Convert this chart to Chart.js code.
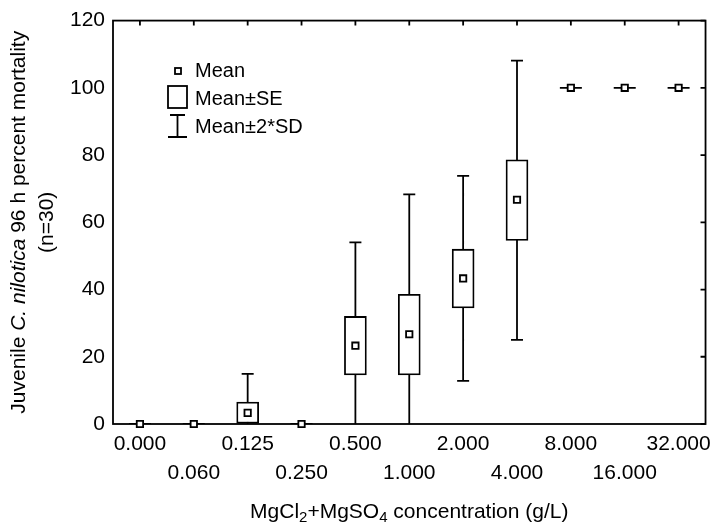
<!DOCTYPE html>
<html>
<head>
<meta charset="utf-8">
<script src="https://cdn.jsdelivr.net/npm/chart.js@4.4.1/dist/chart.umd.min.js"></script>
<style>
  html, body { margin: 0; padding: 0; background: #fff; }
  canvas { display: block; }
</style>
</head>
<body>
<canvas id="chart" width="717" height="529"></canvas>
<script>
// concentrations (g/L) and mortality stats
const concentrations = ['0.000', '0.060', '0.125', '0.250', '0.500', '1.000', '2.000', '4.000', '8.000', '16.000', '32.000'];
const mean   = [0, 0, 3.3, 0, 23.3, 26.7, 43.3, 66.7, 100, 100, 100];
const seLow  = [0, 0, 0.2, 0, 14.6, 14.6, 34.5, 54.6, 100, 100, 100];
const seHigh = [0, 0, 6.5, 0, 32.0, 38.6, 52.0, 78.6, 100, 100, 100];
const sdLow  = [0, 0, -8.2, 0, -7.4, -14.9, 12.8, 25.0, 100, 100, 100];
const sdHigh = [0, 0, 14.9, 0, 54.0, 68.3, 73.8, 108.1, 100, 100, 100];
const yTicks = [0, 20, 40, 60, 80, 100, 120];

const FONT = "'Liberation Sans', Arial, sans-serif";
const LW = 1.8;

// frame with inward ticks on top and right, and the whiskers behind the boxes
const frameAndWhiskers = {
  id: 'frameAndWhiskers',
  beforeDatasetsDraw(chart) {
    const { ctx, chartArea: a, scales: { x, y } } = chart;
    ctx.save();
    ctx.strokeStyle = '#000';
    ctx.lineWidth = LW;
    ctx.strokeRect(a.left, a.top, a.right - a.left, a.bottom - a.top);
    ctx.beginPath();
    concentrations.forEach((c, i) => {
      const px = x.getPixelForValue(i);
      ctx.moveTo(px, a.top);
      ctx.lineTo(px, a.top + 5);
    });
    yTicks.forEach(v => {
      const py = y.getPixelForValue(v);
      ctx.moveTo(a.right, py);
      ctx.lineTo(a.right - 5, py);
    });
    ctx.stroke();

    ctx.beginPath();
    ctx.rect(a.left, a.top, a.right - a.left, a.bottom - a.top);
    ctx.clip();
    ctx.beginPath();
    concentrations.forEach((c, i) => {
      const px = x.getPixelForValue(i);
      const lo = y.getPixelForValue(sdLow[i]);
      const hi = y.getPixelForValue(sdHigh[i]);
      ctx.moveTo(px, lo); ctx.lineTo(px, hi);
      ctx.moveTo(px - 6, lo); ctx.lineTo(px + 6, lo);
      ctx.moveTo(px - 6, hi); ctx.lineTo(px + 6, hi);
      if (seLow[i] === seHigh[i]) {
        // box collapses to a line
        const py = y.getPixelForValue(seLow[i]);
        ctx.moveTo(px - 11, py); ctx.lineTo(px + 11, py);
      }
    });
    ctx.stroke();
    ctx.restore();
  },
  afterDraw(chart) {
    const { ctx, chartArea: a } = chart;
    ctx.save();
    ctx.fillStyle = '#000';
    ctx.strokeStyle = '#000';
    ctx.lineWidth = LW;
    ctx.textBaseline = 'middle';

    // legend
    ctx.font = '20px ' + FONT;
    ctx.fillStyle = '#fff';
    ctx.fillRect(175, 68, 6, 6);
    ctx.strokeRect(175, 68, 6, 6);
    ctx.strokeRect(168, 86, 19, 22);
    ctx.beginPath();
    ctx.moveTo(170, 115); ctx.lineTo(185, 115);
    ctx.moveTo(177.5, 115); ctx.lineTo(177.5, 137);
    ctx.moveTo(168, 137); ctx.lineTo(187, 137);
    ctx.stroke();
    ctx.fillStyle = '#000';
    ctx.fillText('Mean', 195, 71);
    ctx.fillText('Mean\u00b1SE', 195, 99);
    ctx.fillText('Mean\u00b12*SD', 195, 127);

    // y title with italic species name
    const parts = [
      ['Juvenile ', '21px ' + FONT],
      ['C. nilotica', 'italic 21px ' + FONT],
      [' 96 h percent mortality', '21px ' + FONT]
    ];
    let total = 0;
    parts.forEach(p => { ctx.font = p[1]; total += ctx.measureText(p[0]).width; });
    const midY = (a.top + a.bottom) / 2;
    ctx.translate(19, midY);
    ctx.rotate(-Math.PI / 2);
    let cx = -total / 2;
    ctx.textAlign = 'left';
    parts.forEach(p => { ctx.font = p[1]; ctx.fillText(p[0], cx, 0); cx += ctx.measureText(p[0]).width; });
    ctx.font = '21px ' + FONT;
    ctx.textAlign = 'center';
    ctx.fillText('(n=30)', 0, 28);
    ctx.setTransform(1, 0, 0, 1, 0, 0);

    // x title with subscripts
    const xparts = [
      ['MgCl', 0], ['2', 1], ['+MgSO', 0], ['4', 1], [' concentration (g/L)', 0]
    ];
    const fontFor = s => (s ? '15px ' : '21px ') + FONT;
    let w = 0;
    xparts.forEach(p => { ctx.font = fontFor(p[1]); w += ctx.measureText(p[0]).width; });
    let tx = (a.left + a.right) / 2 - w / 2;
    ctx.textAlign = 'left';
    ctx.textBaseline = 'alphabetic';
    xparts.forEach(p => {
      ctx.font = fontFor(p[1]);
      ctx.fillText(p[0], tx, p[1] ? 522 : 518);
      tx += ctx.measureText(p[0]).width;
    });
    ctx.restore();
  }
};

new Chart(document.getElementById('chart'), {
  type: 'bar',
  data: {
    labels: concentrations,
    datasets: [
      {
        type: 'line',
        label: 'Mean',
        data: mean,
        showLine: false,
        pointStyle: 'rect',
        pointRadius: 4.5,
        pointBorderWidth: LW,
        pointBackgroundColor: '#fff',
        pointBorderColor: '#000',
        clip: false,
        order: 0
      },
      {
        label: 'Mean\u00b1SE',
        data: seLow.map((v, i) => [v, seHigh[i]]),
        backgroundColor: '#fff',
        borderColor: '#000',
        borderWidth: LW,
        borderSkipped: false,
        barThickness: 22,
        order: 1
      }
    ]
  },
  options: {
    responsive: false,
    animation: false,
    events: [],
    layout: { padding: { top: 18, right: 6, left: 0, bottom: 0 } },
    plugins: { legend: { display: false }, tooltip: { enabled: false } },
    scales: {
      x: {
        offset: true,
        grid: { display: false, drawTicks: false },
        border: { display: false },
        afterFit: s => { s.height = 105; },
        ticks: {
          color: '#000',
          padding: 6,
          autoSkip: false,
          maxRotation: 0,
          font: { family: FONT, size: 21, lineHeight: 1.36 },
          callback: (v, i) => (i % 2 === 0 ? [concentrations[i], ''] : ['', concentrations[i]])
        }
      },
      y: {
        min: 0,
        max: 120,
        grid: { display: false, drawTicks: false },
        border: { display: false },
        afterFit: s => { s.width = 113; },
        afterBuildTicks: s => { s.ticks = yTicks.map(v => ({ value: v })); },
        ticks: {
          color: '#000',
          padding: 8,
          font: { family: FONT, size: 21 }
        }
      }
    }
  },
  plugins: [frameAndWhiskers]
});
</script>
</body>
</html>
